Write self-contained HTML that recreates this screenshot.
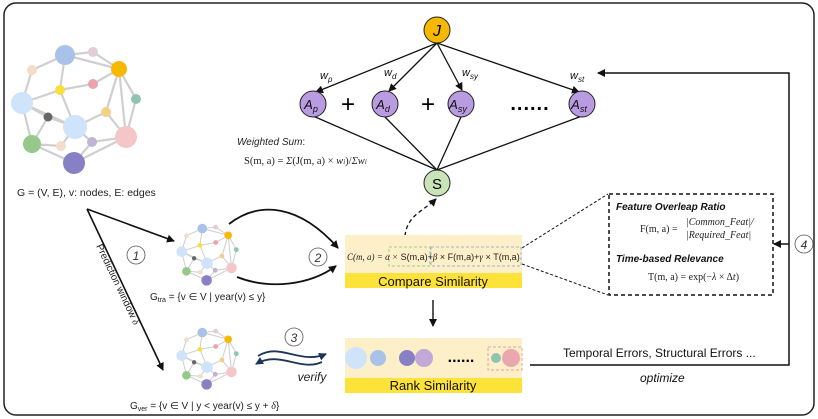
<!DOCTYPE html>
<html><head><meta charset="utf-8"><style>
body{margin:0;background:#fff}
svg{display:block;font-family:"Liberation Sans","DejaVu Sans",sans-serif}
.s{font-family:"Liberation Serif",serif}
</style></head><body>
<svg width="818" height="419" viewBox="0 0 818 419" xmlns="http://www.w3.org/2000/svg">
<defs>
<marker id="ah" markerWidth="8" markerHeight="8" refX="7" refY="4" orient="auto" markerUnits="userSpaceOnUse"><path d="M0,0 L8,4 L0,8 z" fill="#111"/></marker>
<marker id="ahn" markerWidth="8" markerHeight="8" refX="7" refY="4" orient="auto" markerUnits="userSpaceOnUse"><path d="M0,0 L8,4 L0,8 z" fill="#1d3557"/></marker>
<g id="gr">
<g stroke="#cfcfcf" stroke-width="2.2" fill="none">
<path d="M65,55 L93,52 L119,69 M65,55 L32,70 L22,103 M65,55 L60,90 L22,103 M65,55 L119,69 M60,90 L93,84 L119,69 M60,90 L75,127 M119,69 L136,99 L126,137 M119,69 L126,137 M119,69 L106,112 L75,127 M106,112 L126,137 M22,103 L48,117 L75,127 M48,117 L32,144 L22,103 M32,144 L61,146 L75,127 M32,144 L74,163 L92,142 L126,137 M74,163 L126,137 M92,142 L75,127 M22,103 L75,127"/>
</g>
<circle cx="65" cy="55" r="10" fill="#a9c2e8"/><circle cx="93" cy="52" r="5" fill="#e2cdd6"/>
<circle cx="119" cy="69" r="8" fill="#f6b800"/><circle cx="32" cy="70" r="5" fill="#f6dcc6"/>
<circle cx="60" cy="90" r="5" fill="#f8df3c"/><circle cx="93" cy="84" r="5" fill="#e8a3ab"/>
<circle cx="136" cy="99" r="5" fill="#8fc4b0"/><circle cx="22" cy="103" r="11" fill="#cfe3fa"/>
<circle cx="48" cy="117" r="4.5" fill="#666"/><circle cx="106" cy="112" r="5" fill="#f3d08a"/>
<circle cx="75" cy="127" r="12" fill="#cfe3fa"/><circle cx="126" cy="137" r="11" fill="#f4c6c8"/>
<circle cx="32" cy="144" r="9" fill="#94c98a"/><circle cx="61" cy="146" r="5" fill="#f3dccb"/>
<circle cx="92" cy="142" r="5" fill="#c2b2d6"/><circle cx="74" cy="163" r="11" fill="#8880c4"/>
</g>
</defs>
<rect x="4" y="3" width="810" height="412" rx="12" fill="#fff" stroke="#222" stroke-width="1.5"/>

<use href="#gr"/>
<text x="17" y="196" font-size="10.5" fill="#222">G = (V, E), v: nodes, E: edges</text>
<g transform="translate(209,254) scale(0.48) translate(-79,-108)"><use href="#gr"/></g>
<g transform="translate(209,358) scale(0.48) translate(-79,-108)"><use href="#gr"/></g>
<text x="150" y="300" font-size="10" fill="#222">G<tspan font-size="7" dy="2">tra</tspan><tspan dy="-2"> = {v ∈ V  |  year(v) ≤ y}</tspan></text>
<text x="130" y="409" font-size="10" fill="#222">G<tspan font-size="7" dy="2">ver</tspan><tspan dy="-2"> = {v ∈ V  |  y &lt; year(v) ≤ y + </tspan><tspan class="s" font-style="italic">δ</tspan>}</text>

<path d="M87,209 L174,241" stroke="#111" stroke-width="1.6" marker-end="url(#ah)"/>
<path d="M87,209 L163,370" stroke="#111" stroke-width="1.6" marker-end="url(#ah)"/>
<text transform="translate(96,246) rotate(64.5)" font-size="10" fill="#222">Prediction window <tspan class="s" font-style="italic">δ</tspan></text>
<circle cx="136" cy="255" r="9" fill="none" stroke="#555" stroke-width="0.8"/><text x="136" y="260" font-size="12" font-style="italic" text-anchor="middle" fill="#333">1</text>

<path d="M229,224 C260,200 300,205 338,248" stroke="#111" stroke-width="1.8" fill="none" marker-end="url(#ah)"/>
<path d="M237,277 C270,290 310,285 336,266" stroke="#111" stroke-width="1.8" fill="none" marker-end="url(#ah)"/>
<circle cx="318" cy="257" r="9" fill="none" stroke="#555" stroke-width="0.8"/><text x="318" y="262" font-size="12" font-style="italic" text-anchor="middle" fill="#333">2</text>

<circle cx="294" cy="337" r="9" fill="none" stroke="#555" stroke-width="0.8"/><text x="294" y="342" font-size="12" font-style="italic" text-anchor="middle" fill="#333">3</text>
<path d="M258,356 C280,342 300,365 326,354" stroke="#1d3557" stroke-width="1.8" fill="none" marker-end="url(#ahn)"/>
<path d="M322,362 C300,372 280,350 256,364" stroke="#1d3557" stroke-width="1.8" fill="none" marker-end="url(#ahn)"/>
<text x="312" y="381" font-size="12" font-style="italic" text-anchor="middle" fill="#222">verify</text>

<g stroke="#111" stroke-width="1.3">
<line x1="437" y1="43" x2="316" y2="92" marker-end="url(#ah)"/>
<line x1="437" y1="43" x2="389" y2="91" marker-end="url(#ah)"/>
<line x1="437" y1="43" x2="462" y2="90" marker-end="url(#ah)"/>
<line x1="437" y1="43" x2="579" y2="92" marker-end="url(#ah)"/>
<line x1="313" y1="116" x2="437" y2="170"/><line x1="385" y1="117" x2="437" y2="170"/>
<line x1="461" y1="117" x2="437" y2="170"/><line x1="582" y1="116" x2="437" y2="170"/>
</g>
<circle cx="437" cy="30" r="13" fill="#f6b800" stroke="#222"/><text x="437" y="36" font-size="16" font-style="italic" text-anchor="middle">J</text>
<g fill="#b89be0" stroke="#222">
<circle cx="313" cy="104" r="13"/><circle cx="385" cy="104" r="13"/><circle cx="461" cy="104" r="13"/><circle cx="582" cy="104" r="13"/></g>
<g font-size="13" font-style="italic" text-anchor="middle" fill="#111">
<text x="311" y="109">A<tspan font-size="9" dy="3">p</tspan></text>
<text x="383" y="109">A<tspan font-size="9" dy="3">d</tspan></text>
<text x="458" y="109">A<tspan font-size="9" dy="3">sy</tspan></text>
<text x="579" y="109">A<tspan font-size="9" dy="3">st</tspan></text></g>
<g font-size="11" font-style="italic" fill="#111">
<text x="320" y="79">w<tspan font-size="8" dy="3">p</tspan></text>
<text x="384" y="76">w<tspan font-size="8" dy="3">d</tspan></text>
<text x="462" y="76">w<tspan font-size="8" dy="3">sy</tspan></text>
<text x="570" y="79">w<tspan font-size="8" dy="3">st</tspan></text></g>
<text x="348" y="112" font-size="24" text-anchor="middle">+</text><text x="428" y="112" font-size="24" text-anchor="middle">+</text>
<text x="530" y="110" font-size="20" font-weight="bold" text-anchor="middle" letter-spacing="1">......</text>
<circle cx="437" cy="183" r="13" fill="#c8e4b8" stroke="#222"/><text x="437" y="189" font-size="15" text-anchor="middle">S</text>
<text x="237" y="145" font-size="10" font-style="italic" fill="#222">Weighted Sum<tspan font-style="normal">:</tspan></text>
<text x="244" y="164" class="s" font-size="10.5" fill="#222">S(m, a) = <tspan font-style="italic">Σ</tspan>(J(m, a) × <tspan font-style="italic">w<tspan font-size="7">i</tspan></tspan>)/<tspan font-style="italic">Σw<tspan font-size="7">i</tspan></tspan></text>
<path d="M405,236 C407,215 425,210 436,199" stroke="#111" stroke-width="1.3" stroke-dasharray="4,3" fill="none" marker-end="url(#ah)"/>

<rect x="345" y="235" width="177" height="53" fill="#fdefc8"/>
<rect x="345" y="273" width="177" height="15" fill="#fde23a"/>
<rect x="389" y="247" width="41" height="19" fill="none" stroke="#9ccf8e" stroke-dasharray="3,2"/>
<rect x="431" y="247" width="90" height="19" fill="none" stroke="#9bb0d8" stroke-dasharray="3,2"/>
<text x="347" y="260" font-size="9" fill="#222"><tspan class="s" font-style="italic">C(m, a) = α ×</tspan> S(m,a)+<tspan class="s" font-style="italic">β</tspan> × F(m,a)+<tspan class="s" font-style="italic">γ</tspan> × T(m,a)</text>
<text x="433" y="286" font-size="13" text-anchor="middle" fill="#111">Compare Similarity</text>
<line x1="433" y1="300" x2="433" y2="326" stroke="#111" stroke-width="1.4" marker-end="url(#ah)"/>
<line x1="522" y1="248" x2="608" y2="194" stroke="#111" stroke-dasharray="3,2"/>
<line x1="522" y1="264" x2="608" y2="295" stroke="#111" stroke-dasharray="3,2"/>

<rect x="345" y="338" width="177" height="55" fill="#fdefc8"/>
<rect x="345" y="378" width="177" height="15" fill="#fde23a"/>
<circle cx="356" cy="358" r="11" fill="#cfe3fa"/><circle cx="378" cy="358" r="8" fill="#a9c2e8"/>
<circle cx="407" cy="358" r="8" fill="#8880c4"/><circle cx="424" cy="358" r="9" fill="#c0a8d8"/>
<text x="461" y="362" font-size="16" font-weight="bold" text-anchor="middle">......</text>
<rect x="488" y="347" width="34" height="23" fill="none" stroke="#e4a0a8" stroke-dasharray="3,2"/>
<circle cx="496" cy="358" r="5" fill="#8fc4b0"/><circle cx="511" cy="358" r="9" fill="#eba7ae"/>
<text x="433" y="390" font-size="13" text-anchor="middle" fill="#111">Rank Similarity</text>

<polyline points="530,365 789,365 789,73 598,73" fill="none" stroke="#111" stroke-width="1.5" marker-end="url(#ah)"/>
<line x1="789" y1="244" x2="774" y2="244" stroke="#111" stroke-width="1.5" marker-end="url(#ah)"/>
<circle cx="804" cy="244" r="9" fill="#fff" stroke="#555" stroke-width="0.8"/><text x="804" y="249" font-size="12" font-style="italic" text-anchor="middle" fill="#333">4</text>
<text x="563" y="357" font-size="12" fill="#111">Temporal Errors, Structural Errors ...</text>
<text x="640" y="382" font-size="12" font-style="italic" fill="#111">optimize</text>

<rect x="609" y="194" width="164" height="101" fill="#fff" stroke="#111" stroke-width="1.5" stroke-dasharray="4,3"/>
<text x="616" y="210" font-size="10" font-weight="bold" font-style="italic" fill="#111">Feature Overleap Ratio</text>
<text x="640" y="232" class="s" font-size="10" fill="#222">F(m, a) =</text>
<text x="686" y="225" class="s" font-size="10" font-style="italic" fill="#222">|Common_Feat|/</text>
<text x="686" y="238" class="s" font-size="10" font-style="italic" fill="#222">|Required_Feat|</text>
<text x="616" y="262" font-size="10" font-weight="bold" font-style="italic" fill="#111">Time-based Relevance</text>
<text x="648" y="280" class="s" font-size="10" fill="#222">T(m, a) = exp(−<tspan font-style="italic">λ</tspan> × Δ<tspan font-style="italic">t</tspan>)</text>
</svg>
</body></html>
